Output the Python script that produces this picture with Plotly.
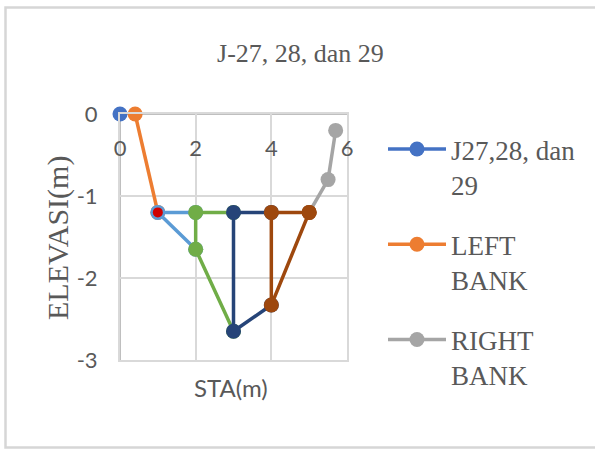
import plotly.graph_objects as go

# Cross-section survey points, station (m) vs elevation (m)
title_text = "J-27, 28, dan 29"
x_title = "STA(m)"
y_title = "ELEVASI(m)"

main_x = [0.0]
main_y = [0.0]

left_bank_x = [0.4, 1.0]
left_bank_y = [0.0, -1.2]

right_bank_x = [5.0, 5.5, 5.7]
right_bank_y = [-1.2, -0.8, -0.2]

seg1_x = [2.0, 1.0, 2.0]
seg1_y = [-1.2, -1.2, -1.65]

seg2_x = [3.0, 2.0, 2.0, 3.0]
seg2_y = [-1.2, -1.2, -1.65, -2.65]

seg3_x = [4.0, 3.0, 3.0, 4.0]
seg3_y = [-1.2, -1.2, -2.65, -2.33]

seg4_x = [5.0, 4.0, 4.0, 5.0]
seg4_y = [-1.2, -1.2, -2.33, -1.2]

point_x = [1.0]
point_y = [-1.2]

x_ticks = [0, 2, 4, 6]
y_ticks = [0, -1, -2, -3]
y_tick_text = ["0", "-1", "-2", "-3"]

TEXT = "#595959"
GRID = "#D9D9D9"
AXIS = "#BFBFBF"
SERIF = "Liberation Serif"
SANS = "Lato"

fig = go.Figure()


def add_series(x, y, color, name=None, legend=False, group=None):
    fig.add_trace(go.Scatter(
        x=x, y=y, mode="lines+markers", name=name or "",
        line=dict(color=color, width=3.5),
        marker=dict(color=color, size=15),
        showlegend=legend, legendgroup=group,
        cliponaxis=False,
    ))


add_series(main_x, main_y, "#4472C4", "J27,28, dan<br>29", True, "a")
add_series(left_bank_x, left_bank_y, "#ED7D31", "LEFT<br>BANK", True, "b")
add_series(right_bank_x, right_bank_y, "#A5A5A5", "RIGHT<br>BANK", True, "c")
add_series(seg1_x, seg1_y, "#5B9BD5")
add_series(seg2_x, seg2_y, "#70AD47")
add_series(seg3_x, seg3_y, "#264478")
add_series(seg4_x, seg4_y, "#9E480E")
fig.add_trace(go.Scatter(
    x=point_x, y=point_y, mode="markers",
    marker=dict(color="#D00000", size=10),
    showlegend=False, cliponaxis=False,
))

fig.update_layout(
    width=595, height=450,
    margin=dict(l=120, r=248, t=114, b=90),
    paper_bgcolor="white", plot_bgcolor="white",
    title=dict(text=title_text, xref="container", yref="container",
               x=0.505, y=1 - 53 / 450, xanchor="center", yanchor="middle",
               font=dict(family=SERIF, size=26, color=TEXT)),
    xaxis=dict(
        range=[0, 6], tickvals=x_ticks, side="top",
        ticklabelposition="inside", ticklabelstandoff=28,
        ticklabeloverflow="allow",
        showgrid=True, gridcolor=GRID, gridwidth=2,
        zeroline=False, showline=True, mirror=True,
        linecolor=GRID, linewidth=2, ticks="",
        tickfont=dict(family=SANS, size=22, color=TEXT),
    ),
    yaxis=dict(
        range=[-3, 0], tickvals=y_ticks, ticktext=y_tick_text,
        ticklabeloverflow="allow",
        showgrid=True, gridcolor=GRID, gridwidth=2,
        zeroline=False, showline=True, mirror=True,
        linecolor=GRID, linewidth=2,
        ticks="", ticklabelstandoff=16,
        tickfont=dict(family=SANS, size=22, color=TEXT),
    ),
    legend=dict(
        xref="container", yref="container",
        x=383 / 595, y=1 - 125 / 450, xanchor="left", yanchor="top",
        maxheight=320,
        font=dict(family=SERIF, size=27, color=TEXT),
        valign="top", tracegroupgap=22, itemwidth=58,
        bgcolor="rgba(0,0,0,0)",
    ),
    annotations=[
        dict(text=x_title, xref="paper", yref="paper",
             x=(231 - 120) / 227, y=(360 - 387) / 246,
             xanchor="center", yanchor="middle", showarrow=False,
             font=dict(family=SANS, size=24, color=TEXT)),
        dict(text=y_title, xref="paper", yref="paper", textangle=-90,
             x=(58 - 120) / 227, y=(360 - 238) / 246,
             xanchor="center", yanchor="middle", showarrow=False,
             font=dict(family=SERIF, size=30, color=TEXT)),
    ],
    shapes=[
        # outer chart border
        dict(type="rect", xref="paper", yref="paper",
             x0=(5.5 - 120) / 227, x1=(610 - 120) / 227,
             y0=(360 - 447.5) / 246, y1=(360 - 7.5) / 246,
             line=dict(color="#D6D6D6", width=2.5), layer="below"),
        # darker value-axis lines along x=0 and y=0
        dict(type="line", xref="paper", yref="paper", x0=0, x1=0, y0=0, y1=1,
             line=dict(color=AXIS, width=2), layer="below"),
        dict(type="line", xref="paper", yref="paper", x0=0, x1=1, y0=1, y1=1,
             line=dict(color=AXIS, width=2), layer="below"),
    ],
)

fig.write_html("out.html")
